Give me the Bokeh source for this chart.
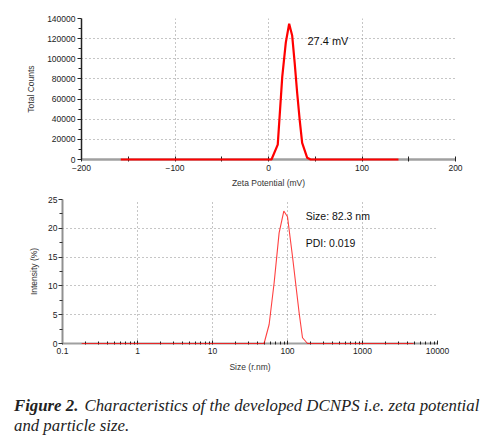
from bokeh.plotting import figure
from bokeh.models import (Range1d, FixedTicker, Label, Div, NumeralTickFormatter,
                          BasicTickFormatter)
from bokeh.embed import file_html
from bokeh.resources import INLINE

# ---- Zeta potential data ----
zeta_mv = [-158, -100, -50, 0, 3.2, 9.9, 14.7, 18.5, 22.1, 25.3, 28.0, 30.7, 33.5, 36.0, 41.4, 45.0, 80, 139]
zeta_counts = [0, 0, 0, 0, 0, 14800, 82100, 116000, 134800, 123200, 96000, 65800, 38000, 16500, 1700, 0, 0, 0]
zeta_xticks = [-200, -100, 0, 100, 200]
zeta_xminor = [-150, -50, 50, 150]
zeta_yticks = [0, 20000, 40000, 60000, 80000, 100000, 120000, 140000]
zeta_yminor = [10000, 30000, 50000, 70000, 90000, 110000, 130000]

# ---- Size distribution data ----
size_nm = [0.18, 10, 48.7, 56.9, 66.3, 77.3, 89.3, 100, 116.6, 143, 158.5, 184.8, 1000, 4800]
intensity = [0, 0, 0, 3.3, 10.5, 19.2, 23.0, 22.0, 15.1, 5.3, 1.0, 0, 0, 0]
size_xticks = [0.1, 1, 10, 100, 1000, 10000]
size_yticks = [0, 5, 10, 15, 20, 25]
size_yminor = [2.5, 7.5, 12.5, 17.5, 22.5]

FONT = "Liberation Sans"
TICK_COL = "#222222"
GRID_COL = "#8c8c8c"

# ================= Top: zeta potential =================
p1 = figure(output_backend="svg", toolbar_location=None,
            x_range=Range1d(-200, 200), y_range=Range1d(0, 140000),
            width=475, height=190,
            min_border_left=81, min_border_right=20, min_border_top=18, min_border_bottom=30,
            background_fill_color="white", border_fill_color="white")
p1.outline_line_color = None

p1.xaxis.ticker = FixedTicker(ticks=zeta_xticks, minor_ticks=zeta_xminor)
p1.yaxis.ticker = FixedTicker(ticks=zeta_yticks, minor_ticks=zeta_yminor)
p1.yaxis.formatter = BasicTickFormatter(use_scientific=False)

for ax in (p1.xaxis[0], p1.yaxis[0]):
    ax.major_label_text_font = FONT
    ax.major_label_text_font_size = "8.5px"
    ax.major_label_text_color = TICK_COL
    ax.axis_label_text_font = FONT
    ax.axis_label_text_font_size = "8.5px"
    ax.axis_label_text_font_style = "normal"
    ax.axis_label_text_color = "#333333"

p1.xaxis.axis_line_color = "#a0a0a0"
p1.xaxis.axis_line_width = 2.5
p1.xaxis.major_tick_line_color = "#222222"
p1.xaxis.minor_tick_line_color = "#222222"
p1.xaxis.major_tick_in = 3
p1.xaxis.major_tick_out = 2
p1.xaxis.minor_tick_in = 3
p1.xaxis.minor_tick_out = 2
p1.xaxis.major_label_standoff = 3
p1.xaxis.axis_label_standoff = 4
p1.xaxis.axis_label = "Zeta Potential (mV)"

p1.yaxis.axis_line_color = "#222222"
p1.yaxis.axis_line_width = 1.5
p1.yaxis.major_tick_line_color = "#222222"
p1.yaxis.minor_tick_line_color = "#222222"
p1.yaxis.major_tick_in = 0
p1.yaxis.major_tick_out = 4
p1.yaxis.minor_tick_in = 0
p1.yaxis.minor_tick_out = 3
p1.yaxis.major_label_standoff = 2
p1.yaxis.axis_label_standoff = 8
p1.yaxis.axis_label = "Total Counts"

p1.grid.grid_line_color = GRID_COL
p1.grid.grid_line_dash = "1 3"
p1.grid.grid_line_width = 1

p1.line(zeta_mv, zeta_counts, line_color="red", line_width=2.2, level="overlay")
p1.add_layout(Label(x=41.7, y=118000, text="27.4 mV", text_font=FONT,
                    text_font_size="11px", text_color="#111111", text_baseline="middle"))

# ================= Bottom: size distribution =================
p2 = figure(output_backend="svg", toolbar_location=None, x_axis_type="log",
            x_range=Range1d(0.1, 10000), y_range=Range1d(0, 25),
            width=467, height=184,
            min_border_left=62, min_border_right=30, min_border_top=9, min_border_bottom=30,
            background_fill_color="white", border_fill_color="white")
p2.outline_line_color = None

size_xminor = [m * t for t in size_xticks[:-1] for m in range(2, 10)]
p2.xaxis.ticker = FixedTicker(ticks=size_xticks, minor_ticks=size_xminor)
p2.yaxis.ticker = FixedTicker(ticks=size_yticks, minor_ticks=size_yminor)
p2.xaxis.formatter = NumeralTickFormatter(format="0[.]0")

for ax in (p2.xaxis[0], p2.yaxis[0]):
    ax.major_label_text_font = FONT
    ax.major_label_text_font_size = "8.5px"
    ax.major_label_text_color = TICK_COL
    ax.axis_label_text_font = FONT
    ax.axis_label_text_font_size = "8.5px"
    ax.axis_label_text_font_style = "normal"
    ax.axis_label_text_color = "#333333"

p2.xaxis.axis_line_color = "#a0a0a0"
p2.xaxis.axis_line_width = 2
p2.xaxis.major_tick_line_color = "#222222"
p2.xaxis.minor_tick_line_color = "#222222"
p2.xaxis.major_tick_in = 3
p2.xaxis.major_tick_out = 1
p2.xaxis.minor_tick_in = 2
p2.xaxis.minor_tick_out = 1
p2.xaxis.major_label_standoff = 3
p2.xaxis.axis_label_standoff = 5
p2.xaxis.axis_label = "Size (r.nm)"

p2.yaxis.axis_line_color = "#909090"
p2.yaxis.axis_line_width = 2
p2.yaxis.major_tick_line_color = "#333333"
p2.yaxis.minor_tick_line_color = "#333333"
p2.yaxis.major_tick_in = 0
p2.yaxis.major_tick_out = 4
p2.yaxis.minor_tick_in = 0
p2.yaxis.minor_tick_out = 3
p2.yaxis.major_label_standoff = 1
p2.yaxis.axis_label_standoff = 6
p2.yaxis.axis_label = "Intensity (%)"

p2.grid.grid_line_color = GRID_COL
p2.grid.grid_line_dash = "1 3"
p2.grid.grid_line_width = 1

p2.line(size_nm, intensity, line_color="red", line_width=1.1, line_alpha=0.75, level="overlay")
p2.add_layout(Label(x=175, y=22.1, text="Size: 82.3 nm", text_font=FONT,
                    text_font_size="10.5px", text_color="#111111", text_baseline="middle"))
p2.add_layout(Label(x=175, y=17.4, text="PDI: 0.019", text_font=FONT,
                    text_font_size="10.5px", text_color="#111111", text_baseline="middle"))

# ================= Caption =================
caption = Div(
    text='<div style="font-family:\'Liberation Serif\',serif;font-style:italic;'
         'font-size:16.8px;line-height:20px;color:#222;margin:17px 0 0 9px;width:472px;">'
         '<b style="margin-right:2px;">Figure 2.</b> Characteristics of the developed DCNPS i.e. zeta potential '
         'and particle size.</div>',
    width=485, height=60)

open("out.html", "w").write(file_html([p1, p2, caption], INLINE))
